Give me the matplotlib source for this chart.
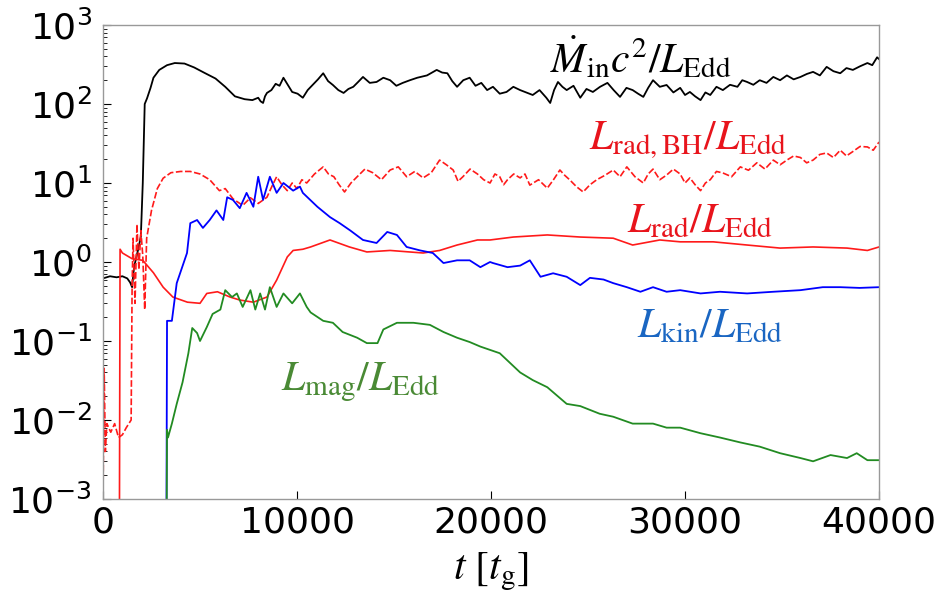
import matplotlib
matplotlib.use("Agg")
import matplotlib.pyplot as plt

plt.rcParams['mathtext.fontset'] = 'stix'

# accretion rate  Mdot_in c^2 / L_Edd
t_mdot = [0, 360, 700, 1000, 1250, 1400, 1500, 1600, 1800, 1950, 2050, 2150, 2270, 2450,
          2600, 2900, 3300, 3700, 4200, 4700, 5200, 5800, 6300, 6800, 7300, 7700, 8000,
          8125, 8250, 8350, 8450, 8680, 8900, 9100, 9300, 9520, 9750, 10030, 10300, 10550,
          10800, 11080, 11350, 11600, 11850, 12130, 12400, 12650, 12900, 13150, 13400,
          13750, 14100, 14450, 14800, 15120, 15450, 15820, 16200, 16700, 17200, 17480,
          17750, 18000, 18250, 18570, 18900, 19200, 19500, 19800, 20100, 20450, 20800,
          21150, 21500, 21820, 22150, 22500, 22850, 23050, 23250, 23450, 23680, 23900,
          24250, 24600, 24920, 25250, 25620, 26000, 26320, 26650, 26980, 27300, 27580,
          27850, 28100, 28350, 28700, 29050, 29400, 29750, 30000, 30250, 30520, 30800,
          31050, 31300, 31620, 31950, 32320, 32700, 32950, 33200, 33520, 33850, 34200,
          34550, 34900, 35250, 35600, 35950, 36280, 36600, 36950, 37300, 37650, 38000,
          38320, 38650, 39020, 39400, 39650, 39900, 40000]
mdot = [0.62, 0.66, 0.64, 0.66, 0.62, 0.55, 0.48, 0.86, 1.4, 2.1, 10, 100, 118, 160,
        215, 270, 310, 330, 325, 290, 250, 210, 165, 125, 115, 112, 120,
        108, 103, 125, 138, 150, 180, 170, 215, 175, 142, 135, 120, 150,
        174, 205, 245, 195, 174, 150, 138, 155, 165, 190, 220,
        185, 190, 215, 200, 170, 185, 200, 215, 230, 270, 250,
        245, 195, 165, 200, 215, 170, 185, 150, 165, 135, 142,
        165, 150, 140, 130, 150, 120, 103, 150, 190, 165, 150,
        170, 120, 155, 142, 165, 185, 150, 123, 160, 150, 135,
        123, 160, 200, 165, 174, 140, 160, 130, 142, 125, 112,
        140, 130, 165, 150, 175, 165, 200, 190, 175, 200, 185,
        220, 200, 230, 205, 220, 240, 255, 230, 295, 260, 245,
        285, 270, 300, 330, 310, 390, 370]

# L_rad,BH / L_Edd (dashed)
t_radbh = [0, 60, 120, 200, 400, 600, 800, 1000, 1200, 1450, 1500, 1550, 1650, 1750,
           1850, 1950, 2050, 2150, 2250, 2500, 2800, 3100, 3500, 4000, 4500, 5000, 5500,
           6000, 6300, 6700, 7200, 7600, 8000, 8450, 8700, 8950, 9220, 9500, 9750, 10000,
           10250, 10500, 10900, 11350, 11620, 11900, 12170, 12450, 12780, 13100, 13500,
           13900, 14350, 14800, 15220, 15650, 16070, 16500, 16920, 17350, 17700, 18050,
           18300, 18550, 18920, 19300, 19620, 19950, 20200, 20450, 20650, 20850, 21170,
           21500, 21750, 22000, 22450, 22900, 23220, 23550, 23800, 24050, 24400, 24750,
           25100, 25450, 25870, 26300, 26650, 27000, 27420, 27850, 28100, 28350, 28700,
           29050, 29400, 29750, 30000, 30250, 30520, 30800, 31050, 31300, 31620, 31950,
           32400, 32850, 33270, 33700, 34120, 34550, 34900, 35250, 35600, 35950, 36270,
           36600, 36950, 37300, 37650, 38000, 38320, 38650, 39020, 39400, 39700, 40000]
radbh = [0.001, 0.045, 0.004, 0.009, 0.007, 0.009, 0.006, 0.0065, 0.008, 0.01, 0.5, 2.0, 0.3, 3.0,
         0.8, 2.5, 1.2, 0.25, 2.0, 4.5, 8.5, 11.5, 13.5, 14, 14, 13, 11,
         8, 8.5, 6.3, 5.2, 6.5, 5.5, 6.6, 9, 12, 9.5, 8, 10, 8.5,
         11, 10, 13, 16, 13, 12, 9.5, 7.7, 10, 12, 15,
         13.5, 11, 14.6, 16, 12, 14, 11.6, 13.5, 19.5, 17, 14.6,
         10.5, 12, 15, 13, 11, 10, 13, 12, 9.5, 11, 13,
         11.6, 13, 9.4, 11, 8.6, 11, 14.6, 12.5, 11, 9, 7.7,
         9.5, 11, 12.5, 14.6, 12, 16, 12, 10, 13, 15, 11,
         12.6, 15, 13, 10, 11.6, 9.5, 8, 10, 11, 14, 13.4,
         12, 16, 14.5, 18, 15, 19.5, 17, 19.5, 22, 21, 18,
         19.5, 23, 24, 21, 26, 22, 25, 29, 28.6, 26, 33]

# L_rad / L_Edd (solid)
t_rad = [830, 880, 1000, 1500, 2050, 2600, 3100, 3600, 4350, 5000, 5350, 5900, 6550, 7050,
         7750, 8450, 8950, 9500, 9800, 10300, 10700, 11700, 12700, 13600, 14800, 15800,
         16500, 17350, 18250, 19300, 19950, 21150, 22900, 24600, 26300, 27300, 28700,
         29750, 31450, 33200, 34900, 36600, 38350, 39400, 40000]
rad = [1e-5, 1.45, 1.3, 1.1, 1.05, 0.73, 0.48, 0.36, 0.31, 0.3, 0.4, 0.42, 0.36, 0.33,
       0.31, 0.36, 0.59, 1.16, 1.4, 1.45, 1.55, 1.9, 1.55, 1.34, 1.4, 1.34,
       1.3, 1.4, 1.64, 1.9, 1.9, 2.07, 2.2, 2.07, 2.0, 1.64, 1.9,
       1.8, 1.8, 1.64, 1.5, 1.55, 1.5, 1.4, 1.55]

# L_kin / L_Edd
t_kin = [3250, 3300, 3550, 3800, 4330, 4500, 4850, 5150, 5500, 5850, 6200, 6400, 6700,
         7050, 7400, 7750, 8000, 8250, 8600, 8950, 9300, 9800, 10150, 10300, 11050, 11700,
         12200, 12750, 13400, 14100, 14650, 15150, 15650, 16350, 17000, 17550, 18250,
         18900, 19450, 19950, 20100, 20850, 21500, 22000, 22550, 23200, 23900, 24600,
         25100, 25800, 26300, 27000, 27700, 28350, 29050, 29750, 30800, 31800, 33200,
         34550, 35950, 37100, 38000, 39000, 40000]
kin = [1e-5, 0.18, 0.18, 0.54, 1.3, 3.1, 3.4, 2.7, 3.4, 4.5, 3.4, 6.6, 6.1,
       4.8, 7.5, 5, 12, 6.1, 12, 7.5, 10, 8, 9, 7.5, 5, 3.7,
       3.1, 2.5, 1.9, 1.74, 2.4, 2.2, 1.55, 1.4, 1.3, 0.97, 1.05,
       1.05, 0.86, 1.0, 0.97, 0.86, 0.9, 1.05, 0.65, 0.72, 0.65, 0.51,
       0.63, 0.6, 0.54, 0.48, 0.42, 0.48, 0.42, 0.44, 0.4, 0.42, 0.4,
       0.42, 0.44, 0.48, 0.48, 0.47, 0.48]

# L_mag / L_Edd
t_mag = [3250, 3300, 3350, 3550, 3800, 4100, 4400, 4600, 4850, 5000, 5350, 5650, 6050,
         6300, 6650, 6900, 7200, 7600, 7850, 8100, 8350, 8600, 8950, 9300, 9750, 10150,
         10500, 10700, 11350, 11850, 12350, 13100, 13600, 14150, 14450, 15150, 16000,
         16850, 17550, 18250, 18900, 19450, 20450, 21500, 22150, 22900, 23900, 24600,
         25600, 26300, 27300, 28350, 29050, 29750, 30800, 31800, 32850, 33850, 34900,
         35950, 36600, 37500, 38350, 38850, 39400, 40000]
mag = [1e-5, 0.0075, 0.006, 0.009, 0.016, 0.03, 0.07, 0.146, 0.126, 0.1, 0.15, 0.22, 0.25,
       0.44, 0.36, 0.4, 0.27, 0.44, 0.25, 0.4, 0.25, 0.48, 0.27, 0.4, 0.3, 0.4,
       0.27, 0.23, 0.18, 0.17, 0.13, 0.11, 0.094, 0.094, 0.14, 0.17, 0.17,
       0.16, 0.13, 0.11, 0.097, 0.085, 0.07, 0.04, 0.032, 0.026, 0.016, 0.015,
       0.012, 0.011, 0.009, 0.009, 0.008, 0.008, 0.0068, 0.006, 0.0052, 0.0046, 0.0038,
       0.0033, 0.003, 0.0036, 0.0033, 0.0038, 0.0031, 0.0031]

fig = plt.figure(figsize=(9.45, 6.11), dpi=100)
ax = fig.add_axes([0.109, 0.1833, 0.8212, 0.7758])

ax.plot(t_mdot, mdot, color='black', lw=1.3)
ax.plot(t_radbh, radbh, color='#ff1a1a', lw=1.2, ls='--', dashes=(4, 1.5))
ax.plot(t_rad, rad, color='#ff1a1a', lw=1.2)
ax.plot(t_kin, kin, color='#0000ff', lw=1.3)
ax.plot(t_mag, mag, color='#228b22', lw=1.3)

ax.set_yscale('log')
ax.set_xlim(0, 40000)
ax.set_ylim(1e-3, 1e3)
ax.set_xticks([0, 10000, 20000, 30000, 40000])
ax.tick_params(axis='both', which='both', direction='in', labelsize=26)
ax.tick_params(axis='x', which='major', length=6, pad=5)
ax.tick_params(axis='y', which='major', length=6, pad=8)
ax.tick_params(axis='y', which='minor', length=3)
for s in ax.spines.values():
    s.set_color('#999999')
    s.set_linewidth(1.0)

ax.set_xlabel(r'$t\ [t_{\rm g}]$', fontsize=30, labelpad=8)

lab = dict(fontsize=30, ha='center', va='center')
ax.text(27700, 380, r'$\dot{M}_{\rm in}c^2/L_{\rm Edd}$', color='black', **lab)
ax.text(30160, 35, r'$L_{\rm rad,BH}/L_{\rm Edd}$', color='#e8141c', **lab)
ax.text(30780, 3.4, r'$L_{\rm rad}/L_{\rm Edd}$', color='#e8141c', **lab)
ax.text(31290, 0.16, r'$L_{\rm kin}/L_{\rm Edd}$', color='#1a66c2', **lab)
ax.text(13250, 0.030, r'$L_{\rm mag}/L_{\rm Edd}$', color='#4a8a35', **lab)

fig.savefig('out.png', dpi=100)
